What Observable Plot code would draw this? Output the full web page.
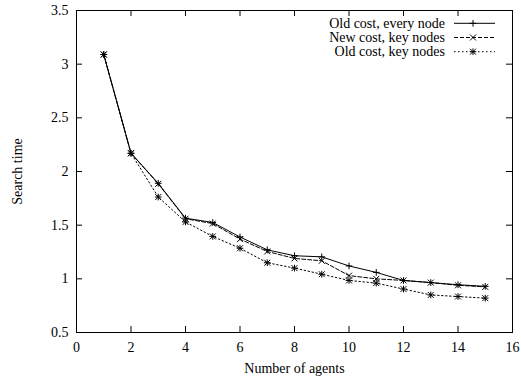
<!DOCTYPE html>
<html><head><meta charset="utf-8">
<script src="https://cdn.jsdelivr.net/npm/d3@7"></script>
<script src="https://cdn.jsdelivr.net/npm/@observablehq/plot@0.6"></script>
<style>
body{margin:0;background:#fff}
#wrap{position:relative;width:521px;height:378px}
</style>
</head><body><div id="wrap"></div>
<script>
const agents = [1,2,3,4,5,6,7,8,9,10,11,12,13,14,15];
const oldEvery = [3.09,2.17,1.89,1.565,1.525,1.39,1.27,1.215,1.205,1.12,1.06,0.985,0.965,0.945,0.93];
const newKey   = [3.09,2.17,1.885,1.56,1.515,1.37,1.255,1.19,1.168,1.03,1.00,0.985,0.965,0.94,0.925];
const oldKey   = [3.09,2.17,1.762,1.53,1.395,1.285,1.15,1.10,1.043,0.985,0.96,0.905,0.85,0.835,0.82];
const seriesNames = ["Old cost, every node","New cost, key nodes","Old cost, key nodes"];
const xTicks = [0,2,4,6,8,10,12,14,16];
const yTicks = [0.5,1,1.5,2,2.5,3,3.5];

const W = 521, H = 378, mL = 76, mR = 9, mT = 10, mB = 46;
const plotH = H - mT - mB, plotW = W - mL - mR;
const tick = 6;
const font = "Liberation Serif, serif";

const mk = (vals) => agents.map((a, i) => ({x: a, y: vals[i]}));
const s1 = mk(oldEvery), s2 = mk(newKey), s3 = mk(oldKey);

const chart = Plot.plot({
  width: W, height: H,
  marginLeft: mL, marginRight: mR, marginTop: mT, marginBottom: mB,
  style: {fontFamily: font, fontSize: "14px", color: "#000", background: "#fff"},
  x: {domain: [0, 16], label: null},
  y: {domain: [0.5, 3.5], label: null},
  marks: [
    Plot.axisX({ticks: xTicks, tickSize: 0, tickPadding: 10, tickFormat: d => String(d), fontSize: 14,
      label: "Number of agents", labelAnchor: "center", labelOffset: 40, labelArrow: "none"}),
    Plot.axisY({ticks: yTicks, tickSize: 0, tickPadding: 8, tickFormat: d => String(d), fontSize: 14,
      label: "Search time", labelAnchor: "center", labelOffset: 64, labelArrow: "none"}),
    Plot.tickX(xTicks, {x: d => d, insetTop: plotH - tick, stroke: "black"}),
    Plot.tickX(xTicks, {x: d => d, insetBottom: plotH - tick, stroke: "black"}),
    Plot.tickY(yTicks, {y: d => d, insetRight: plotW - tick, stroke: "black"}),
    Plot.tickY(yTicks, {y: d => d, insetLeft: plotW - tick, stroke: "black"}),
    Plot.frame({stroke: "black", strokeWidth: 1}),
    Plot.line(s1, {x: "x", y: "y", stroke: "black", strokeWidth: 1}),
    Plot.line(s2, {x: "x", y: "y", stroke: "black", strokeWidth: 1, strokeDasharray: "4,2"}),
    Plot.line(s3, {x: "x", y: "y", stroke: "black", strokeWidth: 1, strokeDasharray: "1.5,2.5"}),
    Plot.dot(s1, {x: "x", y: "y", symbol: "plus", r: 2.3, stroke: "black", strokeWidth: 1}),
    Plot.dot(s2, {x: "x", y: "y", symbol: "times", r: 2.8, stroke: "black", strokeWidth: 1}),
    Plot.dot(s3, {x: "x", y: "y", symbol: "plus", r: 2.3, stroke: "black", strokeWidth: 1}),
    Plot.dot(s3, {x: "x", y: "y", symbol: "times", r: 2.8, stroke: "black", strokeWidth: 1})
  ]
});
const wrap = document.getElementById("wrap");
wrap.appendChild(chart);

// Legend (top-right, inside frame)
const legend = d3.select(wrap).append("svg")
  .attr("width", 200).attr("height", 60)
  .style("position", "absolute").style("left", "300px").style("top", "14px")
  .style("overflow", "visible");
const dashes = [null, "4,2", "1.5,2.5"];
const syms = [["plus"], ["times"], ["plus", "times"]];
const symGen = {plus: d3.symbol(d3.symbolPlus, 2.3*2.3*Math.PI), times: d3.symbol(d3.symbolTimes, 2.8*2.8*Math.PI)};
seriesNames.forEach((name, i) => {
  const cy = 9.3 + i * 14.2;
  legend.append("text").attr("x", 145).attr("y", cy).attr("dy", "0.32em")
    .attr("text-anchor", "end").attr("font-family", font).attr("font-size", 14).text(name);
  legend.append("line").attr("x1", 154).attr("x2", 195).attr("y1", cy).attr("y2", cy)
    .attr("stroke", "black").attr("stroke-dasharray", dashes[i]);
  syms[i].forEach(s => legend.append("path").attr("d", symGen[s]())
    .attr("transform", `translate(173,${cy})`).attr("stroke", "black").attr("fill", "none"));
});
</script>
</body></html>
